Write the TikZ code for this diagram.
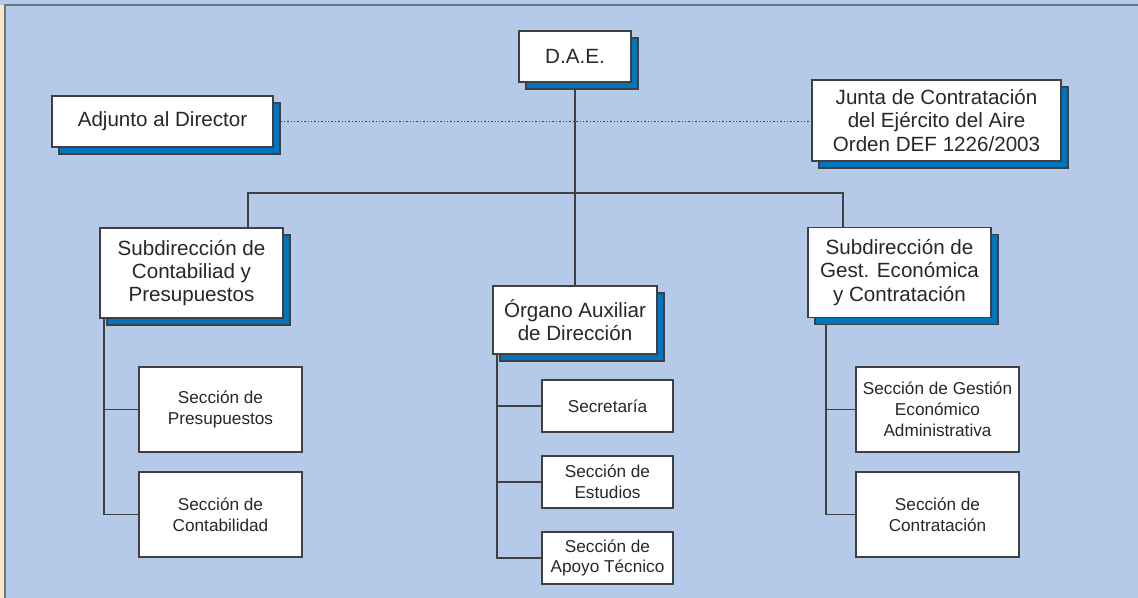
\documentclass[tikz,border=0pt]{standalone}
\usepackage{fontspec}
\setmainfont{Liberation Sans}
\usetikzlibrary{shadows}
\definecolor{paperblue}{RGB}{181,202,232}
\definecolor{stripcream}{RGB}{253,229,200}
\definecolor{framegray}{RGB}{110,116,128}
\definecolor{shadowblue}{RGB}{0,118,190}
\definecolor{linegray}{RGB}{64,64,64}
\definecolor{textgray}{RGB}{40,40,40}
\pgfdeclarelayer{paper}
\pgfdeclarelayer{wires}
\pgfsetlayers{paper,wires,main}
\tikzset{
  unitbox/.style={draw=linegray, line width=0.6pt, fill=white, inner sep=0pt, align=center, text=textgray},
  headbox/.style={unitbox, font=\fontsize{10.3}{11.6}\selectfont,
    drop shadow={shadow xshift=3.5pt, shadow yshift=-3.5pt, fill=shadowblue, draw=linegray, opacity=1}},
  secbox/.style={unitbox, font=\fontsize{8.6}{10.4}\selectfont},
  wire/.style={draw=linegray, line width=0.6pt}
}
\begin{document}
\begin{tikzpicture}[x=0.5pt, y=-0.5pt]
\useasboundingbox (0,0) rectangle (1138,598);
\begin{pgfonlayer}{paper}
  \fill[paperblue] (0,0) rectangle (1138,598);
  \fill[stripcream] (0,5) rectangle (4,598);
  \draw[framegray, line width=0.9pt] (4.6,598) -- (4.6,5) -- (1138,5);
\end{pgfonlayer}

\node[headbox, minimum width=56pt, minimum height=25.5pt] (dae) at (575,56.5) {D.A.E.};
\node[headbox, minimum width=110.5pt, minimum height=25.5pt] (adjunto) at (162.5,121.5) {Adjunto al Director};
\node[headbox, minimum width=124.5pt, minimum height=40.5pt] (junta) at (936.5,120.5) {Junta de Contratación\\del Ejército del Aire\\Orden DEF 1226/2003};
\node[headbox, minimum width=91.5pt, minimum height=45pt] (subcont) at (191.5,273) {Subdirección de\\Contabiliad y\\Presupuestos};
\node[headbox, minimum width=91.5pt, minimum height=45pt] (subgest) at (899.5,272.5) {Subdirección de\\Gest. Económica\\y Contratación};
\node[headbox, minimum width=82pt, minimum height=34pt] (organo) at (575,320) {Órgano Auxiliar\\de Dirección};

\node[secbox, minimum width=65.5pt, minimum height=26pt] (secret) at (607.5,406) {Secretaría};
\node[secbox, minimum width=65.5pt, minimum height=26pt] (estud) at (607.5,482) {Sección de\\Estudios};
\node[secbox, minimum width=65.5pt, minimum height=26pt] (apoyo) at (607.5,558) {Sección de\\Apoyo Técnico};
\node[secbox, minimum width=81.5pt, minimum height=42.5pt] (presup) at (220.5,409.5) {Sección de\\Presupuestos};
\node[secbox, minimum width=81.5pt, minimum height=42.5pt] (contab) at (220.5,514.5) {Sección de\\Contabilidad};
\node[secbox, minimum width=81.5pt, minimum height=42.5pt] (gestion) at (937.5,409.5) {Sección de Gestión\\Económico\\Administrativa};
\node[secbox, minimum width=81.5pt, minimum height=42.5pt] (contrat) at (937.5,514.5) {Sección de\\Contratación};

\coordinate (busl) at (248,193);
\coordinate (busr) at (843,193);
\coordinate (contbus) at (104,0);
\coordinate (orgbus) at (497,0);
\coordinate (gestbus) at (826,0);

\begin{pgfonlayer}{wires}
  \draw[draw=linegray, line width=0.7pt, densely dotted] (adjunto) -- (adjunto -| junta);
  \draw[wire] (dae) -- (organo);
  \draw[wire] (busl |- subcont) -- (busl) -- (busr) -- (busr |- subgest);
  \draw[wire] (contbus |- subcont) |- (contab);
  \draw[wire] (presup) -- (contbus |- presup);
  \draw[wire] (orgbus |- organo) |- (apoyo);
  \draw[wire] (secret) -- (orgbus |- secret);
  \draw[wire] (estud) -- (orgbus |- estud);
  \draw[wire] (gestbus |- subgest) |- (contrat);
  \draw[wire] (gestion) -- (gestbus |- gestion);
\end{pgfonlayer}
\end{tikzpicture}
\end{document}
